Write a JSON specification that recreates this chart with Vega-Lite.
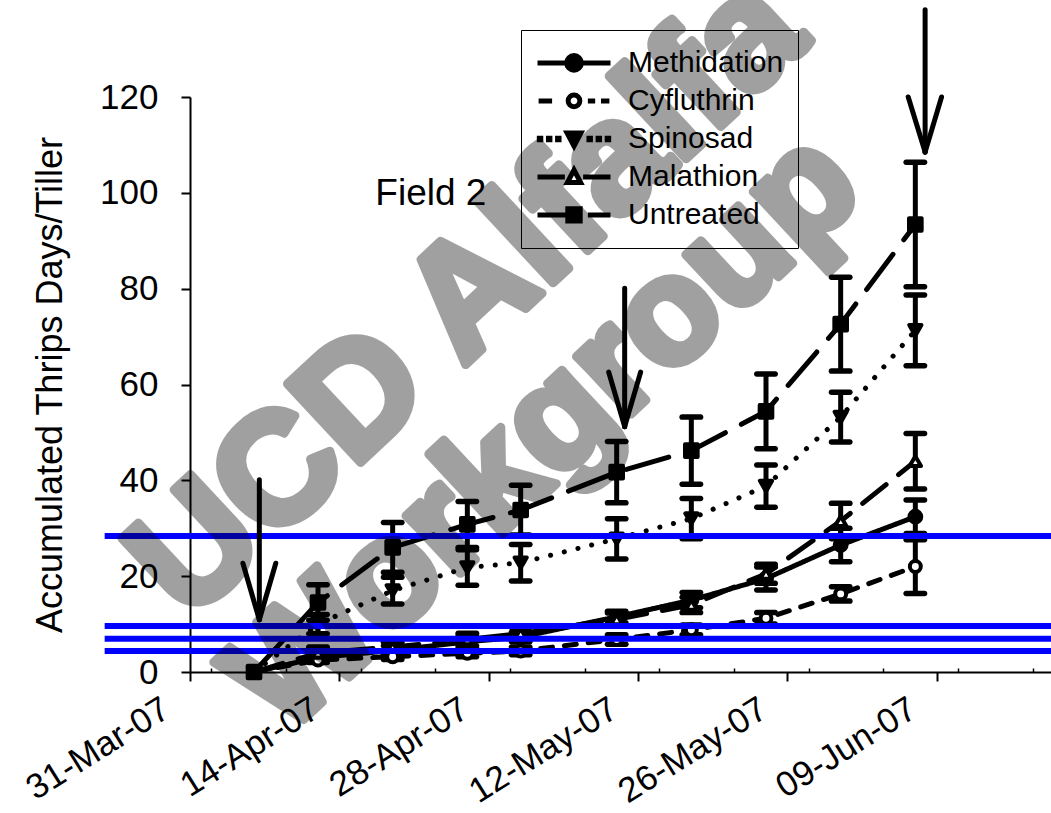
{
"$schema":"https://vega.github.io/schema/vega-lite/v6.json",
"width":864,"height":575,
"autosize":{"type":"none"},
"padding":{"left":190,"top":97,"right":0,"bottom":141},
"background":"white",
"config":{"view":{"stroke":null},"font":"Liberation Sans",
 "axis":{"domainColor":"black","domainWidth":2,"tickColor":"black","tickWidth":2,"tickSize":9,"labelColor":"black","labelFontSize":35,"labelFont":"Liberation Sans","titleColor":"black","titleFont":"Liberation Sans","titleFontWeight":"normal","grid":false}},
"datasets":{
 "thrips":[
  {"series":"Methidation","date":"2007-04-06","mean":0,"err":0},
  {"series":"Methidation","date":"2007-04-12","mean":3,"err":0.8},
  {"series":"Methidation","date":"2007-04-19","mean":4.5,"err":1},
  {"series":"Methidation","date":"2007-04-26","mean":6.3,"err":1.3},
  {"series":"Methidation","date":"2007-05-01","mean":7.3,"err":1},
  {"series":"Methidation","date":"2007-05-10","mean":11.5,"err":1.2},
  {"series":"Methidation","date":"2007-05-17","mean":15,"err":1.6},
  {"series":"Methidation","date":"2007-05-24","mean":19.5,"err":2.4},
  {"series":"Methidation","date":"2007-05-31","mean":26.5,"err":3.5},
  {"series":"Methidation","date":"2007-06-07","mean":32.4,"err":3.5},
  {"series":"Cyfluthrin","date":"2007-04-06","mean":0,"err":0},
  {"series":"Cyfluthrin","date":"2007-04-12","mean":2.5,"err":0.5},
  {"series":"Cyfluthrin","date":"2007-04-19","mean":3.2,"err":0.6},
  {"series":"Cyfluthrin","date":"2007-04-26","mean":3.9,"err":0.7},
  {"series":"Cyfluthrin","date":"2007-05-01","mean":4.4,"err":0.8},
  {"series":"Cyfluthrin","date":"2007-05-10","mean":6.8,"err":1},
  {"series":"Cyfluthrin","date":"2007-05-17","mean":8.8,"err":1},
  {"series":"Cyfluthrin","date":"2007-05-24","mean":11.2,"err":1.2},
  {"series":"Cyfluthrin","date":"2007-05-31","mean":16.3,"err":1.5},
  {"series":"Cyfluthrin","date":"2007-06-07","mean":22,"err":5.6},
  {"series":"Spinosad","date":"2007-04-06","mean":0,"err":0},
  {"series":"Spinosad","date":"2007-04-12","mean":10,"err":2},
  {"series":"Spinosad","date":"2007-04-19","mean":17,"err":2.8},
  {"series":"Spinosad","date":"2007-04-26","mean":21.8,"err":3.7},
  {"series":"Spinosad","date":"2007-05-01","mean":22.8,"err":3.8},
  {"series":"Spinosad","date":"2007-05-10","mean":27.8,"err":4.2},
  {"series":"Spinosad","date":"2007-05-17","mean":32,"err":4.2},
  {"series":"Spinosad","date":"2007-05-24","mean":38.8,"err":4.4},
  {"series":"Spinosad","date":"2007-05-31","mean":53.2,"err":5.2},
  {"series":"Spinosad","date":"2007-06-07","mean":71.3,"err":7.4},
  {"series":"Malathion","date":"2007-04-06","mean":0,"err":0},
  {"series":"Malathion","date":"2007-04-12","mean":4,"err":1.2},
  {"series":"Malathion","date":"2007-04-19","mean":5.2,"err":1},
  {"series":"Malathion","date":"2007-04-26","mean":6.8,"err":1.3},
  {"series":"Malathion","date":"2007-05-01","mean":8,"err":1.3},
  {"series":"Malathion","date":"2007-05-10","mean":11,"err":1.3},
  {"series":"Malathion","date":"2007-05-17","mean":14,"err":1.6},
  {"series":"Malathion","date":"2007-05-24","mean":20.5,"err":2},
  {"series":"Malathion","date":"2007-05-31","mean":31.5,"err":3.7},
  {"series":"Malathion","date":"2007-06-07","mean":44,"err":5.8},
  {"series":"Untreated","date":"2007-04-06","mean":0,"err":0},
  {"series":"Untreated","date":"2007-04-12","mean":14.5,"err":3.7},
  {"series":"Untreated","date":"2007-04-19","mean":26,"err":5.2},
  {"series":"Untreated","date":"2007-04-26","mean":30.8,"err":4.8},
  {"series":"Untreated","date":"2007-05-01","mean":33.8,"err":5.2},
  {"series":"Untreated","date":"2007-05-10","mean":41.7,"err":6.4},
  {"series":"Untreated","date":"2007-05-17","mean":46.2,"err":7},
  {"series":"Untreated","date":"2007-05-24","mean":54.4,"err":7.8},
  {"series":"Untreated","date":"2007-05-31","mean":72.6,"err":9.8},
  {"series":"Untreated","date":"2007-06-07","mean":93.4,"err":13}
 ],
 "refs":[{"level":28.4},{"level":9.6},{"level":6.95},{"level":4.4}],
 "arrows":[
  {"x1":"2007-04-06T12:00:00Z","y1":40.1,"x2":"2007-04-06T12:00:00Z","y2":10.9},
  {"x1":"2007-04-04T23:00:00Z","y1":22.7,"x2":"2007-04-06T12:00:00Z","y2":10.9},
  {"x1":"2007-04-08T01:00:00Z","y1":22.7,"x2":"2007-04-06T12:00:00Z","y2":10.9},
  {"x1":"2007-05-10T18:00:00Z","y1":80.1,"x2":"2007-05-10T18:00:00Z","y2":51.2},
  {"x1":"2007-05-09T06:00:00Z","y1":62.6,"x2":"2007-05-10T18:00:00Z","y2":51.2},
  {"x1":"2007-05-12T06:00:00Z","y1":62.6,"x2":"2007-05-10T18:00:00Z","y2":51.2},
  {"x1":"2007-06-07T22:00:00Z","y1":138.2,"x2":"2007-06-07T22:00:00Z","y2":108.5},
  {"x1":"2007-06-06T08:00:00Z","y1":120.0,"x2":"2007-06-07T22:00:00Z","y2":108.5},
  {"x1":"2007-06-09T11:00:00Z","y1":120.0,"x2":"2007-06-07T22:00:00Z","y2":108.5}
 ]
},
"resolve":{"axis":{"x":"independent"},"scale":{"shape":"independent","fill":"independent","size":"independent"}},
"layer":[
 {"data":{"name":"thrips"},
  "mark":{"type":"line","color":"black","strokeCap":"round","strokeJoin":"round"},
  "encoding":{
   "x":{"field":"date","type":"temporal",
    "scale":{"type":"utc","domain":[{"year":2007,"month":3,"date":31,"utc":true},{"year":2007,"month":6,"date":20,"utc":true}]},
    "axis":{"title":null,"format":"%d-%b-%y","labelAngle":-32,"labelOffset":-33,"labelPadding":10,"labelAlign":"right","labelBaseline":"top","labelOverlap":false,"labelFlush":false,
     "values":[{"year":2007,"month":3,"date":31,"utc":true},{"year":2007,"month":4,"date":14,"utc":true},{"year":2007,"month":4,"date":28,"utc":true},{"year":2007,"month":5,"date":12,"utc":true},{"year":2007,"month":5,"date":26,"utc":true},{"year":2007,"month":6,"date":9,"utc":true}]}},
   "y":{"field":"mean","type":"quantitative","title":"Accumulated Thrips Days/Tiller",
    "scale":{"domain":[0,120],"nice":false},
    "axis":{"values":[0,20,40,60,80,100,120],"labelPadding":23,"titleFontSize":36,"titlePadding":30}},
   "strokeDash":{"field":"series","type":"nominal","legend":null,
    "scale":{"range":[[12,12],[30,16],[1,0],[0.1,14],[44,18]]}},
   "strokeWidth":{"field":"series","type":"nominal","legend":null,
    "scale":{"range":[5,5,5,6.5,5]}}
  }},
 {"data":{"name":"thrips"},
  "transform":[{"filter":"datum.err > 0"}],
  "mark":{"type":"errorbar","color":"black","opacity":1,"thickness":5,"size":24,
   "rule":{"strokeWidth":5,"color":"black","opacity":1},
   "ticks":{"thickness":5.5,"size":24,"color":"black","opacity":1,"cornerRadius":2.7}},
  "encoding":{
   "x":{"field":"date","type":"temporal","axis":null},
   "y":{"field":"mean","type":"quantitative","title":"Accumulated Thrips Days/Tiller"},
   "yError":{"field":"err"}
  }},
 {"data":{"name":"thrips"},
  "mark":{"type":"point","filled":false,"stroke":"black","strokeWidth":4,"opacity":1,"strokeJoin":"round"},
  "encoding":{
   "x":{"field":"date","type":"temporal","axis":null},
   "y":{"field":"mean","type":"quantitative","title":"Accumulated Thrips Days/Tiller"},
   "shape":{"field":"series","type":"nominal","legend":null,
    "scale":{"range":["circle","triangle-up","circle","triangle-down","square"]}},
   "fill":{"field":"series","type":"nominal","legend":null,
    "scale":{"range":["white","white","black","black","black"]}},
   "size":{"field":"series","type":"nominal","legend":null,
    "scale":{"range":[120,160,240,260,220]}}
  }},
 {"data":{"name":"thrips"},
  "mark":{"type":"point","filled":true,"stroke":"black","strokeWidth":5,"opacity":0,"size":5329},
  "encoding":{
   "x":{"field":"date","type":"temporal","axis":null},
   "y":{"field":"mean","type":"quantitative","title":"Accumulated Thrips Days/Tiller"},
   "shape":{"field":"series","type":"nominal",
    "scale":{"domain":["Methidation","Cyfluthrin","Spinosad","Malathion","Untreated"],
     "range":["M-1,0L1,0M-0.2,0A0.2,0.2,0,1,0,0.2,0A0.2,0.2,0,1,0,-0.2,0Z",
      "M-0.97,0L-0.6,0M0.38,0L0.58,0M0.74,0L0.97,0M-0.16,0A0.16,0.16,0,1,0,0.16,0A0.16,0.16,0,1,0,-0.16,0Z",
      "M-0.95,-0.02L-0.91,-0.02L-0.91,0.02L-0.95,0.02ZM-0.7,-0.02L-0.66,-0.02L-0.66,0.02L-0.7,0.02ZM-0.45,-0.02L-0.41,-0.02L-0.41,0.02L-0.45,0.02ZM0.41,-0.02L0.45,-0.02L0.45,0.02L0.41,0.02ZM0.66,-0.02L0.7,-0.02L0.7,0.02L0.66,0.02ZM0.91,-0.02L0.95,-0.02L0.95,0.02L0.91,0.02ZM-0.19,-0.16L0.19,-0.16L0,0.2Z",
      "M-1,0L-0.25,0M0.25,0L1,0M-0.18,0.15L0.18,0.15L0,-0.19Z",
      "M-1,0L-0.22,0M0.38,0L1,0M-0.17,-0.17L0.17,-0.17L0.17,0.17L-0.17,0.17Z"]},
    "legend":{"orient":"none","legendX":331,"legendY":-67,"title":null,"padding":14,"strokeColor":"black",
     "labelFontSize":30,"labelFont":"Liberation Sans","labelColor":"black","labelOffset":15,"clipHeight":37.8,"rowPadding":0,
     "symbolSize":5329,"symbolStrokeWidth":5,"symbolOpacity":1}},
   "fill":{"field":"series","type":"nominal",
    "scale":{"domain":["Methidation","Cyfluthrin","Spinosad","Malathion","Untreated"],"range":["black","white","black","white","black"]}}
  }},
 {"data":{"name":"refs"},
  "mark":{"type":"rule","color":"#0000ff","strokeWidth":6},
  "encoding":{
   "x":{"datum":{"year":2007,"month":3,"date":23,"utc":true},"type":"temporal","axis":null},
   "x2":{"datum":{"year":2007,"month":6,"date":25,"utc":true}},
   "y":{"field":"level","type":"quantitative","title":"Accumulated Thrips Days/Tiller"}
  }},
 {"data":{"name":"arrows"},
  "mark":{"type":"rule","color":"black","strokeWidth":5,"strokeCap":"round"},
  "encoding":{
   "x":{"field":"x1","type":"temporal",
    "axis":{"orient":"bottom","title":null,"labels":false,"domain":false,"tickSize":-4,"tickWidth":1.5,
     "values":[{"year":2007,"month":4,"date":2,"utc":true},{"year":2007,"month":4,"date":9,"utc":true},{"year":2007,"month":4,"date":16,"utc":true},{"year":2007,"month":4,"date":23,"utc":true},{"year":2007,"month":4,"date":30,"utc":true},{"year":2007,"month":5,"date":7,"utc":true},{"year":2007,"month":5,"date":14,"utc":true},{"year":2007,"month":5,"date":21,"utc":true},{"year":2007,"month":5,"date":28,"utc":true},{"year":2007,"month":6,"date":4,"utc":true},{"year":2007,"month":6,"date":11,"utc":true},{"year":2007,"month":6,"date":18,"utc":true}]}},
   "x2":{"field":"x2"},
   "y":{"field":"y1","type":"quantitative","title":"Accumulated Thrips Days/Tiller"},
   "y2":{"field":"y2"}
  }},
 {"data":{"values":[{"label":"Field 2","date":"2007-04-22T14:00:00Z","value":97.5}]},
  "mark":{"type":"text","fontSize":37,"font":"Liberation Sans","color":"black","align":"center","baseline":"alphabetic"},
  "encoding":{
   "x":{"field":"date","type":"temporal","axis":null},
   "y":{"field":"value","type":"quantitative","title":"Accumulated Thrips Days/Tiller"},
   "text":{"field":"label"}
  }},
 {"data":{"values":[{"label":"UCD Alfalfa","date":"2007-04-26T01:00:00Z","value":78.0}]},
  "mark":{"type":"text","fontSize":156,"font":"Liberation Sans","fontWeight":"bold","angle":-43,"color":"black","stroke":"black","strokeWidth":9,"strokeJoin":"round","opacity":0.37,"align":"center","baseline":"middle"},
  "encoding":{
   "x":{"field":"date","type":"temporal","axis":null},
   "y":{"field":"value","type":"quantitative","title":"Accumulated Thrips Days/Tiller"},
   "text":{"field":"label"}
  }},
 {"data":{"values":[{"label":"Workgroup","date":"2007-05-03T06:30:00Z","value":49.9}]},
  "mark":{"type":"text","fontSize":150,"font":"Liberation Sans","fontWeight":"bold","angle":-43,"color":"black","stroke":"black","strokeWidth":9,"strokeJoin":"round","opacity":0.37,"align":"center","baseline":"middle"},
  "encoding":{
   "x":{"field":"date","type":"temporal","axis":null},
   "y":{"field":"value","type":"quantitative","title":"Accumulated Thrips Days/Tiller"},
   "text":{"field":"label"}
  }}
]
}
